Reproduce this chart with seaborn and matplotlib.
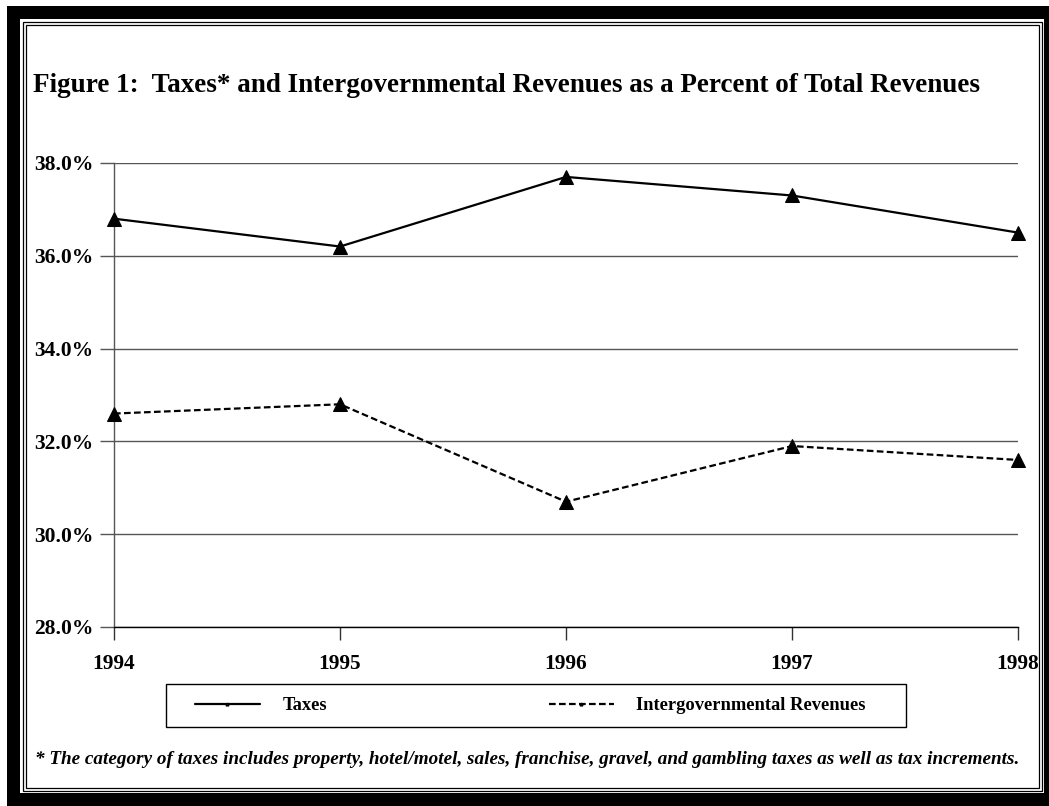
import matplotlib
matplotlib.use("Agg")
import numpy as np
import pandas as pd
import matplotlib.pyplot as plt
import seaborn as sns
from matplotlib.lines import Line2D
from matplotlib.patches import Rectangle

# ---- data ----
years = [1994, 1995, 1996, 1997, 1998]
taxes = [36.8, 36.2, 37.7, 37.3, 36.5]
intergov = [32.6, 32.8, 30.7, 31.9, 31.6]
series_names = ["Taxes", "Intergovernmental Revenues"]
y_ticks = [28, 30, 32, 34, 36, 38]
y_tick_labels = ["28.0%", "30.0%", "32.0%", "34.0%", "36.0%", "38.0%"]
x_tick_labels = ["1994", "1995", "1996", "1997", "1998"]
title = "Figure 1:  Taxes* and Intergovernmental Revenues as a Percent of Total Revenues"
footnote = ("* The category of taxes includes property, hotel/motel, sales, franchise, "
            "gravel, and gambling taxes as well as tax increments.")

df = pd.DataFrame({
    "Year": years * 2,
    "Value": taxes + intergov,
    "Series": [series_names[0]] * len(years) + [series_names[1]] * len(years),
})

sns.set_style("white")
plt.rcParams["font.family"] = ["Liberation Serif", "DejaVu Serif"]
plt.rcParams["font.weight"] = "bold"
plt.rcParams["text.color"] = "black"
plt.rcParams["xtick.color"] = "black"
plt.rcParams["ytick.color"] = "black"

W, H = 1049, 806
fig = plt.figure(figsize=(W / 100, H / 100), dpi=100)
fig.patch.set_facecolor("white")

def fx(x):
    return x / W

def fy(y):
    return 1 - y / H

def rect(x0, y0, x1, y1, **kw):
    r = Rectangle((fx(x0), fy(y1)), fx(x1) - fx(x0), fy(y0) - fy(y1),
                  transform=fig.transFigure, **kw)
    fig.add_artist(r)
    return r

# frame
rect(7, 6, 1049, 806, facecolor="black", edgecolor="none", zorder=-10)
rect(20, 19, 1044, 793, facecolor="white", edgecolor="none", zorder=-9)
rect(22.5, 21.5, 1041.5, 790.5, facecolor="none", edgecolor="black", linewidth=0.9, zorder=-8)
rect(25.5, 24.5, 1038.5, 787.5, facecolor="none", edgecolor="black", linewidth=0.9, zorder=-8)

ax = fig.add_axes([fx(114), fy(627), fx(1018) - fx(114), fy(163) - fy(627)])
ax.set_facecolor("none")

sns.lineplot(
    data=df, x="Year", y="Value", style="Series", style_order=series_names,
    dashes={series_names[0]: "", series_names[1]: (3, 1.5)},
    markers={series_names[0]: "^", series_names[1]: "^"},
    color="black", markersize=10, linewidth=1.6, markeredgecolor="black",
    legend=False, ax=ax, clip_on=False, zorder=5,
)

ax.set_xlim(1994, 1998)
ax.set_ylim(28, 38)
ax.set_xticks(years)
ax.set_xticklabels(x_tick_labels)
ax.set_yticks(y_ticks)
ax.set_yticklabels(y_tick_labels)
ax.set_xlabel("")
ax.set_ylabel("")
ax.grid(axis="y", color="#555555", linewidth=1)
ax.grid(axis="x", visible=False)
ax.tick_params(axis="y", length=10, width=1, color="#555555", pad=5,
               labelsize=15.5, labelcolor="black", left=True)
ax.tick_params(axis="x", length=9.5, width=1, color="#333333", pad=10,
               labelsize=15.3, labelcolor="black", bottom=True)
for lab in ax.get_xticklabels() + ax.get_yticklabels():
    lab.set_fontweight("bold")
ax.spines["top"].set_visible(False)
ax.spines["right"].set_visible(False)
ax.spines["left"].set_color("#555555")
ax.spines["left"].set_linewidth(1)
ax.spines["bottom"].set_color("black")
ax.spines["bottom"].set_linewidth(1)

# legend box
rect(166, 684, 906, 727, facecolor="white", edgecolor="black", linewidth=1, zorder=-7)
handles = [
    Line2D([], [], color="black", lw=1.6, linestyle="-", marker="^", markersize=2),
    Line2D([], [], color="black", lw=1.6, linestyle=(0, (3, 1.5)), marker="^", markersize=2),
]
leg = fig.legend(
    handles, series_names, ncol=2, loc="center left",
    bbox_to_anchor=(fx(195), fy(705.5)),
    frameon=False, borderpad=0, borderaxespad=0,
    handlelength=3.5, handletextpad=1.24, columnspacing=12.0,
    prop={"family": "Liberation Serif", "weight": "bold", "size": 13.3},
)
for t in leg.get_texts():
    t.set_color("black")

fig.text(fx(33), fy(92), title, fontsize=19.5, fontweight="bold", va="baseline",
         ha="left", color="black")
fig.text(fx(35), fy(764), footnote, fontsize=13.8, fontweight="bold", style="italic",
         va="baseline", ha="left", color="black")

fig.savefig("out.png", dpi=100)
